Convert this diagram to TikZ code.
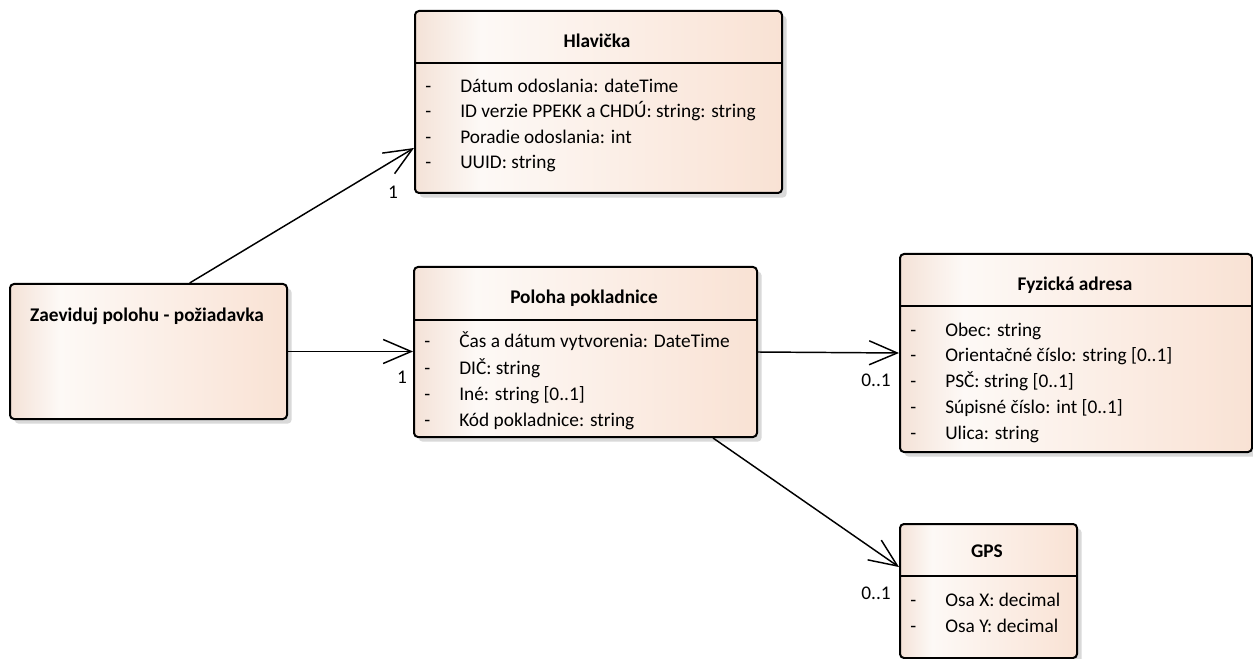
\documentclass[tikz,border=0pt]{standalone}
\usepackage{fontspec}
\setmainfont{Carlito}
\usetikzlibrary{arrows.meta, shadows}

\definecolor{peachR}{HTML}{F9E2D4}
\definecolor{peachL}{HTML}{F4E2D7}
\definecolor{peachM}{HTML}{FDF9F6}
% left to right fill of the class boxes
\pgfdeclarehorizontalshading{classfill}{100bp}{color(0bp)=(peachL); color(25bp)=(peachL);
  color(34bp)=(peachM); color(75bp)=(peachR); color(100bp)=(peachR)}

\begin{document}
\begin{tikzpicture}[x = 0.75pt, y = -0.75pt, % pixel units
                > = {Straight Barb[length=21pt, width=18pt]}, % open arrow head
                font = \fontsize{14.5}{17}\selectfont
            ]

            \tikzstyle{classbox}=[draw = black, line width = 1.5pt, rounded corners = 3pt,
            shading = classfill, shading angle = 0, anchor = north west, inner sep = 0pt,
            drop shadow = {shadow xshift = 3.5pt, shadow yshift = -3.5pt, fill = black!15, opacity = 1}]
            \tikzstyle{classtitle}=[anchor = base, font = \fontsize{14.5}{17}\selectfont\bfseries]
            \tikzstyle{attr}=[anchor = base west, inner sep = 0pt]
            \tikzstyle{mult}=[anchor = base, inner sep = 0pt]
            \tikzstyle{assoc}=[->, line width = 1.1pt]
            \tikzstyle{divider}=[line width = 1.1pt]

            \useasboundingbox (0,0) rectangle (1253,659);

            % boxes
            \node[classbox, minimum width = 367*0.75pt, minimum height = 182*0.75pt] (hlav) at (414,10) {};
            \node[classbox, minimum width = 277*0.75pt, minimum height = 135*0.75pt] (zaev) at (9,283) {};
            \node[classbox, minimum width = 343*0.75pt, minimum height = 170*0.75pt] (pol) at (413,266) {};
            \node[classbox, minimum width = 352*0.75pt, minimum height = 198*0.75pt] (fyz) at (899,253) {};
            \node[classbox, minimum width = 177*0.75pt, minimum height = 134*0.75pt] (gps) at (899,523) {};

            \node[classtitle] (hlavT) at (597,48) {Hlavička};
            \node[classtitle] (zaevT) at (147,321) {Zaeviduj polohu - požiadavka};
            \node[classtitle] (polT) at (584,304) {Poloha pokladnice};
            \node[classtitle] (fyzT) at (1075,291) {Fyzická adresa};
            \node[classtitle] (gpsT) at (987,557) {GPS};

            \draw[divider] (hlav.west |- 0,63) -- (hlav.east |- 0,63);
            \draw[divider] (pol.west |- 0,320) -- (pol.east |- 0,320);
            \draw[divider] (fyz.west |- 0,306) -- (fyz.east |- 0,306);
            \draw[divider] (gps.west |- 0,576) -- (gps.east |- 0,576);

            % attributes
            \foreach \t [count=\i] in {{Dátum odoslania: dateTime}, {ID verzie PPEKK a CHDÚ: string: string},
                {Poradie odoslania: int}, {UUID: string}} {
                \node[attr] (hlavD\i) at (425,67+25.5*\i) {-};
                \node[attr] (hlavA\i) at (460,67+25.5*\i) {\t};
            }
            \foreach \t [count=\i] in {{Čas a dátum vytvorenia: DateTime}, {DIČ: string},
                {Iné: string [0..1]}, {Kód pokladnice: string}} {
                \node[attr] (polD\i) at (424,322+26*\i) {-};
                \node[attr] (polA\i) at (459,322+26*\i) {\t};
            }
            \foreach \t [count=\i] in {{Obec: string}, {Orientačné číslo: string [0..1]}, {PSČ: string [0..1]},
                {Súpisné číslo: int [0..1]}, {Ulica: string}} {
                \node[attr] (fyzD\i) at (910,310.5+25.7*\i) {-};
                \node[attr] (fyzA\i) at (945,310.5+25.7*\i) {\t};
            }
            \foreach \t [count=\i] in {{Osa X: decimal}, {Osa Y: decimal}} {
                \node[attr] (gpsD\i) at (910,580+26*\i) {-};
                \node[attr] (gpsA\i) at (945,580+26*\i) {\t};
            }

            % associations
            \draw[assoc] (zaev.59) -- (hlav.194);
            \draw[assoc] (zaev.east) -- (zaev.east -| pol.west);
            \draw[assoc] (pol.east) -- (fyz.west);
            \draw[assoc] (pol.326) -- (gps.165);

            \node[mult] (m1) at (393,199) {1};
            \node[mult] (m2) at (402,383) {1};
            \node[mult] (m3) at (876,386) {0..1};
            \node[mult] (m4) at (876,599) {0..1};
        \end{tikzpicture}
\end{document}
